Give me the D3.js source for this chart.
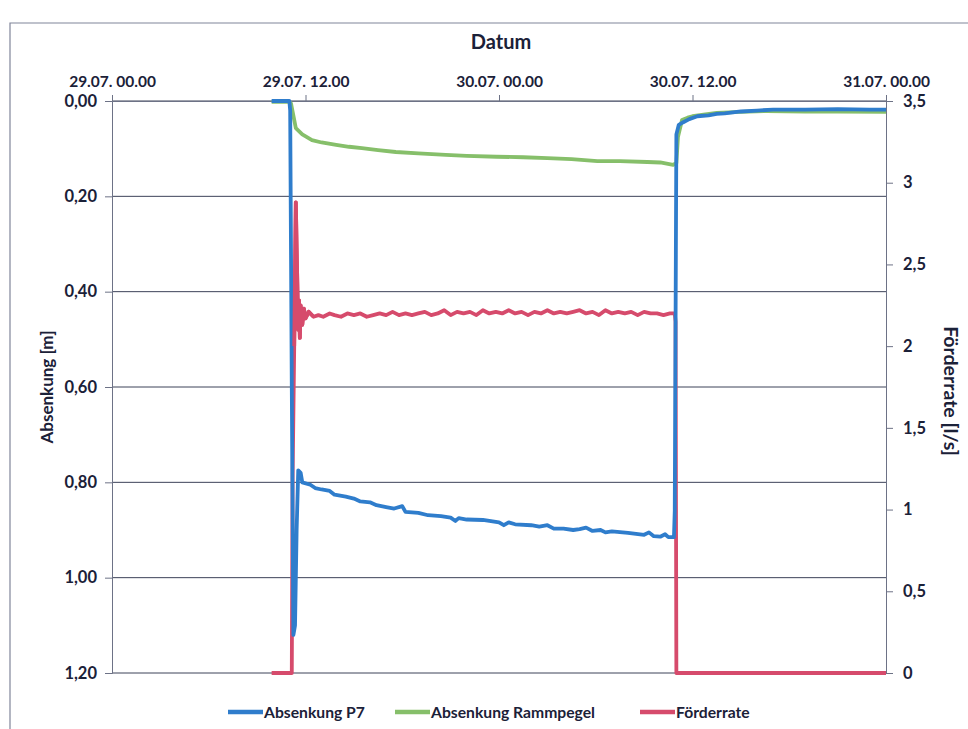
<!DOCTYPE html>
<html>
<head>
<meta charset="utf-8">
<script src="https://cdn.jsdelivr.net/npm/d3@7"></script>
<style>
  body { margin: 0; background: #fff; }
  text { font-family: Lato, "Open Sans", sans-serif; font-weight: bold; fill: #1b2138; }
</style>
</head>
<body>
<svg id="chart" width="968" height="729"></svg>
<script>
// hours since 29.07. 00:00
const xTicks = [0, 12, 24, 36, 48];
const xTickLabels = ["29.07. 00.00", "29.07. 12.00", "30.07. 00.00", "30.07. 12.00", "31.07. 00.00"];
const leftTicks = [0, 0.2, 0.4, 0.6, 0.8, 1.0, 1.2];
const rightTicks = [0, 0.5, 1, 1.5, 2, 2.5, 3, 3.5];

const seriesNames = ["Absenkung P7", "Absenkung Rammpegel", "Förderrate"];
const seriesColors = ["#2f7dcc", "#86bf6a", "#d64b6c"];

// Absenkung P7 [m]
const p7Time = [9.9, 11.0, 11.05, 11.15, 11.25, 11.35, 11.45, 11.55, 11.7, 11.8, 12.3, 12.6, 13.0, 13.5, 13.8,
  14.5, 15.0, 15.4, 16.0, 16.4, 17.0, 17.5, 18.0, 18.2, 19.0, 19.6, 20.4, 21.0, 21.3, 21.5, 22.0, 23.0,
  24.0, 24.3, 24.6, 25.0, 26.0, 26.5, 27.0, 27.4, 28.0, 28.6, 29.0, 29.4, 29.8, 30.3, 30.6, 31.0, 32.0,
  32.5, 33.0, 33.3, 33.6, 34.0, 34.3, 34.5, 34.85, 34.9, 35.0, 35.15, 35.4, 35.8, 36.3, 37.0, 37.5, 38.0,
  39.0, 40.0, 41.0, 43.0, 45.0, 47.0, 48.0];
const p7Value = [0.00, 0.00, 0.02, 0.60, 1.12, 1.10, 0.90, 0.775, 0.78, 0.80, 0.805, 0.812, 0.815, 0.818, 0.826,
  0.830, 0.834, 0.840, 0.842, 0.848, 0.852, 0.855, 0.850, 0.862, 0.864, 0.869, 0.871, 0.874, 0.881, 0.875, 0.878, 0.879,
  0.884, 0.890, 0.884, 0.888, 0.890, 0.893, 0.890, 0.897, 0.897, 0.900, 0.898, 0.895, 0.902, 0.900, 0.905, 0.903, 0.906,
  0.908, 0.910, 0.905, 0.913, 0.914, 0.909, 0.915, 0.915, 0.860, 0.07, 0.05, 0.045, 0.038, 0.032, 0.030, 0.027, 0.026,
  0.022, 0.020, 0.018, 0.018, 0.017, 0.018, 0.018];

// Absenkung Rammpegel [m]
const rpTime = [9.9, 11.0, 11.1, 11.4, 11.8, 12.4, 13.0, 13.9, 14.7, 15.5, 16.5, 17.6, 19.0, 20.7, 22.0, 23.85,
  25.5, 27.0, 28.5, 30.1, 31.5, 33.2, 34.0, 34.8, 35.0, 35.1, 35.35, 35.7, 36.0, 36.8, 37.5, 39.0, 40.6,
  43.0, 45.0, 48.0];
const rpValue = [0.002, 0.002, 0.005, 0.057, 0.070, 0.082, 0.087, 0.092, 0.096, 0.099, 0.103, 0.107, 0.110, 0.113, 0.115, 0.117,
  0.118, 0.120, 0.122, 0.126, 0.126, 0.128, 0.129, 0.134, 0.13, 0.075, 0.040, 0.035, 0.032, 0.028, 0.025, 0.023, 0.021,
  0.022, 0.022, 0.023];

// Förderrate [l/s]
const qTime = [9.9, 11.15, 11.2, 11.3, 11.4, 11.45, 11.5, 11.55, 11.6, 11.65, 11.7, 11.8, 11.9, 12.0, 12.2, 12.5,
  12.8, 13.1, 13.5, 13.8, 14.2, 14.6, 15.0, 15.4, 15.8, 16.2, 16.6, 17.0, 17.4, 17.8, 18.2, 18.6, 19.0,
  19.4, 19.8, 20.2, 20.6, 21.0, 21.4, 21.8, 22.2, 22.6, 23.0, 23.4, 23.8, 24.2, 24.6, 25.0, 25.4, 25.8,
  26.2, 26.6, 27.0, 27.4, 27.8, 28.2, 28.6, 29.0, 29.4, 29.8, 30.2, 30.6, 31.0, 31.4, 31.8, 32.2, 32.6,
  33.0, 33.4, 33.8, 34.2, 34.6, 34.9, 34.95, 35.0, 48.0];
const qValue = [0, 0, 1.2, 2.0, 2.88, 2.6, 2.35, 2.1, 2.28, 2.05, 2.25, 2.13, 2.23, 2.17, 2.21, 2.18,
  2.19, 2.18, 2.20, 2.19, 2.18, 2.20, 2.19, 2.20, 2.18, 2.19, 2.20, 2.19, 2.21, 2.19, 2.20, 2.19, 2.20,
  2.21, 2.19, 2.20, 2.22, 2.19, 2.21, 2.20, 2.21, 2.19, 2.22, 2.20, 2.21, 2.20, 2.22, 2.20, 2.21, 2.19,
  2.21, 2.20, 2.22, 2.20, 2.21, 2.20, 2.21, 2.22, 2.20, 2.21, 2.19, 2.22, 2.20, 2.21, 2.20, 2.21, 2.19,
  2.21, 2.20, 2.20, 2.19, 2.20, 2.20, 2.15, 0, 0];

const svg = d3.select("#chart");
const L = 112, R = 886, T = 101, B = 673;

const x = d3.scaleLinear().domain([0, 48]).range([L, R]);
const yL = d3.scaleLinear().domain([0, 1.2]).range([T, B]);
const yR = d3.scaleLinear().domain([0, 3.5]).range([B, T]);

const fmtL = d => d3.format(".2f")(d).replace(".", ",");
const fmtR = d => String(d).replace(".", ",");

// outer frame of the scanned chart
svg.append("path").attr("d", "M10,729 V23 H968").attr("fill", "none").attr("stroke", "#80859a").attr("stroke-width", 1.2);

// gridlines
svg.append("g").selectAll("line").data(leftTicks).join("line")
  .attr("x1", L).attr("x2", R).attr("y1", d => yL(d)).attr("y2", d => yL(d))
  .attr("stroke", "#3c4258").attr("stroke-width", 1);

// left axis
const gL = svg.append("g").attr("transform", `translate(${L},0)`)
  .call(d3.axisLeft(yL).tickValues(leftTicks).tickFormat(fmtL).tickSize(7).tickPadding(8));
// right axis
const gR = svg.append("g").attr("transform", `translate(${R},0)`)
  .call(d3.axisRight(yR).tickValues(rightTicks).tickFormat(fmtR).tickSize(7).tickPadding(10));
// top axis
const gT = svg.append("g").attr("transform", `translate(0,${T})`)
  .call(d3.axisTop(x).tickValues(xTicks).tickFormat((d, i) => xTickLabels[i]).tickSize(6).tickSizeOuter(0).tickPadding(8));

for (const g of [gL, gR, gT]) {
  g.selectAll(".domain").attr("stroke", "#6d7286");
  g.selectAll(".tick line").attr("stroke", "#6d7286");
  g.selectAll("text").style("font-size", "16.5px").attr("fill", "#1b2138");
}
gT.selectAll("text").style("font-size", "15.5px");

// series lines
const series = [
  { t: p7Time, v: p7Value, y: yL },
  { t: rpTime, v: rpValue, y: yL },
  { t: qTime, v: qValue, y: yR }
];
const drawOrder = [2, 1, 0];
drawOrder.forEach(i => {
  const s = series[i];
  const pts = s.t.map((t, k) => [t, s.v[k]]);
  svg.append("path").datum(pts)
    .attr("fill", "none")
    .attr("stroke", seriesColors[i])
    .attr("stroke-width", 3.8)
    .attr("stroke-linejoin", "round")
    .attr("d", d3.line().x(d => x(d[0])).y(d => s.y(d[1])));
});
// the red spike lies over the blue drop
(function() {
  const s = series[2];
  const pts = s.t.map((t, k) => [t, s.v[k]]).filter(d => d[0] >= 11.3 && d[0] <= 12.5);
  svg.append("path").datum(pts).attr("fill", "none").attr("stroke", seriesColors[2])
    .attr("stroke-width", 3.8).attr("stroke-linejoin", "round")
    .attr("d", d3.line().x(d => x(d[0])).y(d => yR(d[1])));
})();

// titles
svg.append("text").attr("x", 501).attr("y", 49).attr("text-anchor", "middle").style("font-size", "20px").text("Datum");
svg.append("text").attr("transform", "translate(53,387) rotate(-90)").attr("text-anchor", "middle")
  .style("font-size", "17px").text("Absenkung [m]");
svg.append("text").attr("transform", "translate(944,391) rotate(90)").attr("text-anchor", "middle")
  .style("font-size", "19.5px").text("Förderrate [l/s]");

// legend
const legendX = [228, 395, 640];
const lg = svg.append("g").selectAll("g").data(seriesNames).join("g")
  .attr("transform", (d, i) => `translate(${legendX[i]},712)`);
lg.append("line").attr("x1", 0).attr("x2", 35).attr("y1", 0).attr("y2", 0)
  .attr("stroke", (d, i) => seriesColors[i]).attr("stroke-width", 4.5);
lg.append("text").attr("x", 36).attr("y", 5.5).style("font-size", "15.7px").text(d => d);
</script>
</body>
</html>
